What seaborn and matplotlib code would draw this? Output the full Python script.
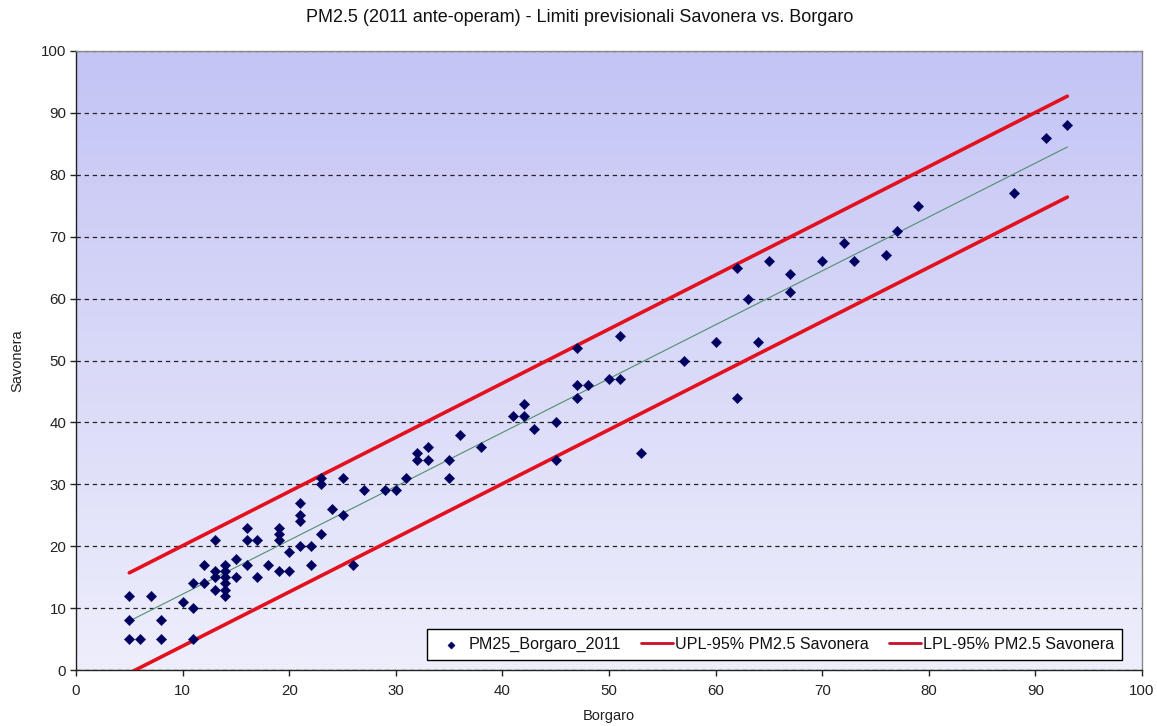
import numpy as np
import pandas as pd
import matplotlib
matplotlib.use("Agg")
import matplotlib.pyplot as plt
from matplotlib.colors import LinearSegmentedColormap
import seaborn as sns

# ---- data ----
borgaro = [5, 5, 5, 6, 7, 8, 8, 10, 11, 11, 11, 12, 12, 13, 13, 13, 13,
           14, 14, 14, 14, 14, 14, 15, 15, 16, 16, 16, 17, 17, 18,
           19, 19, 19, 19, 20, 20, 21, 21, 21, 21, 22, 22, 23, 23, 23,
           24, 25, 25, 26, 27, 29, 30, 31, 32, 32, 33, 33, 35, 35, 36, 38,
           41, 42, 42, 43, 45, 45, 47, 47, 47, 48, 50, 51, 51, 53, 57, 60,
           62, 62, 63, 64, 65, 67, 67, 70, 72, 73, 76, 77, 79, 88, 91, 93]
savonera = [12, 8, 5, 5, 12, 8, 5, 11, 14, 10, 5, 17, 14, 21, 16, 15, 13,
            17, 16, 15, 14, 13, 12, 18, 15, 23, 21, 17, 21, 15, 17,
            23, 22, 21, 16, 19, 16, 27, 25, 24, 20, 20, 17, 31, 30, 22,
            26, 31, 25, 17, 29, 29, 29, 31, 35, 34, 36, 34, 34, 31, 38, 36,
            41, 43, 41, 39, 40, 34, 52, 46, 44, 46, 47, 54, 47, 35, 50, 53,
            65, 44, 60, 53, 66, 64, 61, 66, 69, 66, 67, 71, 75, 77, 86, 88]

limit_x = [5, 93]
fit_y = [7.9, 84.5]
upl_y = [15.7, 92.7]
lpl_y = [-0.5, 76.4]

x_ticks = list(range(0, 101, 10))
y_ticks = list(range(0, 101, 10))

title = "PM2.5 (2011 ante-operam) - Limiti previsionali Savonera vs. Borgaro"
x_label = "Borgaro"
y_label = "Savonera"
scatter_label = "PM25_Borgaro_2011"
upl_label = "UPL-95% PM2.5 Savonera"
lpl_label = "LPL-95% PM2.5 Savonera"

# ---- styling ----
sns.set_theme(style="white")
plt.rcParams["font.family"] = ["Liberation Sans", "DejaVu Sans"]

fig = plt.figure(figsize=(11.57, 7.26), dpi=100)
fig.patch.set_facecolor("white")
ax = fig.add_axes([76 / 1157, 1 - 670 / 726, (1142 - 76) / 1157, (670 - 51) / 726])

# gradient plot-area background
bg = LinearSegmentedColormap.from_list("bg", ["#c4c4f5", "#eeeefc"])
ax.imshow(np.linspace(0, 1, 256).reshape(-1, 1), cmap=bg, extent=[0, 100, 0, 100],
          aspect="auto", origin="upper", zorder=0)

ax.set_xlim(0, 100)
ax.set_ylim(0, 100)
ax.set_xticks(x_ticks)
ax.set_yticks(y_ticks)

ax.yaxis.grid(True, linestyle=(0, (3.5, 3.0)), color="#222222", linewidth=0.9)
ax.xaxis.grid(False)

df = pd.DataFrame({"Borgaro": borgaro, "Savonera": savonera})
lim = pd.DataFrame({"x": limit_x, "fit": fit_y, "upl": upl_y, "lpl": lpl_y})

sns.lineplot(data=lim, x="x", y="fit", color="#4f8f6f", linewidth=0.8,
             ax=ax, zorder=3, legend=False, label="_nolegend_")
sns.lineplot(data=lim, x="x", y="upl", color="#e3101e", linewidth=2.6,
             ax=ax, zorder=3, label=upl_label)
sns.lineplot(data=lim, x="x", y="lpl", color="#e3101e", linewidth=2.6,
             ax=ax, zorder=3, label=lpl_label)
sns.scatterplot(data=df, x="Borgaro", y="Savonera", marker="D", s=28,
                color="#00005e", edgecolor="#00005e", linewidth=0.3,
                ax=ax, zorder=4, label=scatter_label)

for side in ["top", "right"]:
    ax.spines[side].set_color("#8a8a8a")
    ax.spines[side].set_linewidth(1)
for side in ["left", "bottom"]:
    ax.spines[side].set_color("#222222")
    ax.spines[side].set_linewidth(1)

ax.tick_params(axis="both", direction="out", length=4, width=1, color="#222222",
               labelsize=10.8, labelcolor="#222222", pad=3,
               bottom=True, left=True)
ax.tick_params(axis="x", pad=6)

ax.set_xlabel(x_label, fontsize=10.5, color="#222222", labelpad=8)
ax.set_ylabel(y_label, fontsize=10.5, color="#222222", labelpad=12)

handles, labels = ax.get_legend_handles_labels()
order = [labels.index(scatter_label), labels.index(upl_label), labels.index(lpl_label)]
leg = ax.legend([handles[i] for i in order], [labels[i] for i in order],
                loc="lower right", bbox_to_anchor=(0.9812, 0.0162), ncol=3,
                frameon=True, fancybox=False, edgecolor="black", framealpha=1,
                fontsize=11.6, handlelength=2.0, columnspacing=1.25,
                borderpad=0.5, borderaxespad=0.0, handletextpad=0.1,
                markerscale=0.7)
leg.get_frame().set_linewidth(1)
for h in leg.legend_handles[1:]:
    h.set_linewidth(2.0)
    h.set_color("#c8102a")
for t in leg.get_texts():
    t.set_color("#111111")

fig.text(580 / 1157, 1 - 18 / 726, title, ha="center", va="center",
         fontsize=13, color="#111111")

fig.savefig("out.png", dpi=100)
